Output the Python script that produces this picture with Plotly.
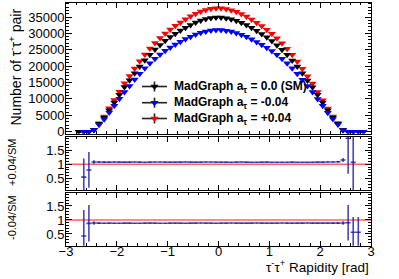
import plotly.graph_objects as go

# ---------------- data ----------------
bin_centers = [round(-2.95 + 0.1 * i, 2) for i in range(60)]

sm_counts = [None, None, 1, 4, 7, 560, 2390, 4270, 6580, 8930,
             11280, 13640, 15700, 17860, 19900, 21800, 23500, 25050, 26450, 27750,
             28880, 29900, 30850, 31750, 32600, 33320, 33920, 34380, 34700, 34880,
             34850, 34650, 34330, 33880, 33280, 32570, 31720, 30800, 29850, 28820,
             27700, 26400, 25000, 23450, 21760, 19860, 17800, 15650, 13600, 11240,
             8890, 6540, 4320, 2430, 540, 6, 3, 2, 1, None]

minus_counts = [None, None, None, 2, 6, 500, 2120, 3800, 5850, 7950,
                10040, 12140, 13970, 15900, 17710, 19400, 20920, 22300, 23540, 24700,
                25700, 26610, 27460, 28260, 29010, 29650, 30190, 30600, 30880, 31040,
                31020, 30840, 30550, 30150, 29620, 28990, 28230, 27410, 26570, 25650,
                24650, 23500, 22250, 20870, 19370, 17680, 15840, 13930, 12100, 10000,
                7910, 5820, 3840, 2160, 480, 5, 2, 1, 1, None]

plus_counts = [None, None, 1, 2, 6, 615, 2590, 4620, 7120, 9660,
               12200, 14750, 16980, 19300, 21520, 23560, 25380, 27060, 28570, 29970,
               31200, 32300, 33330, 34300, 35220, 36000, 36650, 37140, 37490, 37680,
               37650, 37430, 37090, 36600, 35950, 35190, 34270, 33270, 32250, 31130,
               29920, 28520, 27000, 25330, 23500, 21450, 19230, 16900, 14700, 12140,
               9600, 7070, 4670, 2630, 620, 11, 3, None, None, None]

ratio_plus = ([None, None, None, 0.55, 0.80, 1.08] +
              [1.080, 1.078, 1.076, 1.079, 1.077, 1.075, 1.078, 1.080, 1.076, 1.074,
               1.077, 1.079, 1.081, 1.078, 1.076, 1.075, 1.077, 1.079, 1.078, 1.076,
               1.077, 1.080, 1.079, 1.077, 1.076, 1.075, 1.074, 1.077, 1.079, 1.076,
               1.073, 1.072, 1.075, 1.077, 1.074, 1.072, 1.071, 1.073, 1.075, 1.074,
               1.072, 1.071, 1.074, 1.076, 1.078, 1.080, 1.083, 1.088] +
              [1.15, 1.92, 1.07, None, None, None])

ratio_plus_err = ([None, None, None, 0.65, 0.63, 0.06] +
                  [0.031, 0.023, 0.018, 0.016, 0.014, 0.013, 0.012, 0.011, 0.011, 0.010,
                   0.010, 0.010, 0.009, 0.009, 0.009, 0.009, 0.009, 0.009, 0.009, 0.009,
                   0.008, 0.008, 0.008, 0.008, 0.008, 0.008, 0.008, 0.008, 0.009, 0.009,
                   0.009, 0.009, 0.009, 0.009, 0.009, 0.009, 0.010, 0.010, 0.010, 0.011,
                   0.011, 0.012, 0.013, 0.014, 0.016, 0.018, 0.023, 0.031] +
                  [0.07, 1.25, 1.20, None, None, None])

ratio_minus = ([None, None, None, 0.43, 0.88, 0.89] +
               [0.886, 0.884, 0.887, 0.885, 0.883, 0.886, 0.888, 0.885, 0.884, 0.886,
                0.889, 0.887, 0.885, 0.884, 0.886, 0.888, 0.887, 0.885, 0.886, 0.889,
                0.890, 0.888, 0.886, 0.885, 0.887, 0.889, 0.890, 0.888, 0.886, 0.887,
                0.889, 0.891, 0.889, 0.887, 0.886, 0.888, 0.890, 0.889, 0.887, 0.886,
                0.888, 0.890, 0.889, 0.887, 0.886, 0.888, 0.889, 0.887] +
               [0.89, 0.90, 0.56, 0.56, None, None])

ratio_minus_err = ([None, None, None, 0.93, 0.65, 0.06] +
                   [0.028, 0.021, 0.016, 0.014, 0.013, 0.012, 0.011, 0.010, 0.010, 0.009,
                    0.009, 0.009, 0.008, 0.008, 0.008, 0.008, 0.008, 0.008, 0.008, 0.008,
                    0.007, 0.007, 0.007, 0.007, 0.007, 0.007, 0.007, 0.007, 0.008, 0.008,
                    0.008, 0.008, 0.008, 0.008, 0.008, 0.008, 0.009, 0.009, 0.009, 0.010,
                    0.010, 0.011, 0.012, 0.013, 0.014, 0.016, 0.021, 0.028] +
                   [0.06, 0.63, 0.55, 0.55, None, None])

half_bin = [0.05] * 60

legend_labels = ["<b>MadGraph a<sub>τ</sub> = 0.0 (SM)</b>",
                 "<b>MadGraph a<sub>τ</sub> = -0.04</b>",
                 "<b>MadGraph a<sub>τ</sub> = +0.04</b>"]
legend_colors = ["black", "#0000ff", "#ff0000"]

# ---------------- figure ----------------
W, H = 399, 279
FONT = "Liberation Sans, Arial, sans-serif"


def ydom(top_px, bot_px):
    return [1 - bot_px / H, 1 - top_px / H]


XDOM = [66 / W, 371 / W]

fig = go.Figure()

# top panel markers (red, black, blue)
for vals, col in [(plus_counts, "#ff0000"), (sm_counts, "black"), (minus_counts, "#0000ff")]:
    fig.add_trace(go.Scatter(
        x=bin_centers, y=vals, mode="markers", xaxis="x", yaxis="y",
        marker=dict(symbol="triangle-down", size=7, color=col, line=dict(width=0)),
        showlegend=False, hoverinfo="skip"))

ratio_col = "rgba(25,25,165,0.8)"
line_col = "rgba(255,70,70,0.85)"

# ratio panels
for (vals, errs, xa, ya) in [(ratio_plus, ratio_plus_err, "x2", "y2"),
                             (ratio_minus, ratio_minus_err, "x3", "y3")]:
    fig.add_trace(go.Scatter(
        x=[-3, 3], y=[1, 1], mode="lines", xaxis=xa, yaxis=ya,
        line=dict(color=line_col, width=1.5), showlegend=False, hoverinfo="skip"))
    fig.add_trace(go.Scatter(
        x=bin_centers, y=vals, mode="markers", xaxis=xa, yaxis=ya,
        marker=dict(size=1, color=ratio_col),
        error_x=dict(type="data", array=half_bin, color=ratio_col, thickness=1.6, width=0),
        error_y=dict(type="data", array=errs, color=ratio_col, thickness=1.6, width=0),
        showlegend=False, hoverinfo="skip"))

# legend (drawn on an overlay pixel-space axis)
leg_rows = [86.5, 102.7, 118.5]
for row, col in zip(leg_rows, legend_colors):
    fig.add_trace(go.Scatter(
        x=[142, 167], y=[row, row], mode="lines", xaxis="x4", yaxis="y4",
        line=dict(color="#222222", width=1.6), showlegend=False, hoverinfo="skip"))
    fig.add_trace(go.Scatter(
        x=[154.5, 154.5], y=[row - 5, row + 5], mode="lines", xaxis="x4", yaxis="y4",
        line=dict(color="#222222", width=1.6), showlegend=False, hoverinfo="skip"))
    fig.add_trace(go.Scatter(
        x=[154.5], y=[row], mode="markers", xaxis="x4", yaxis="y4",
        marker=dict(symbol="triangle-down", size=7, color=col, line=dict(width=0)),
        showlegend=False, hoverinfo="skip"))

common = dict(showline=True, linecolor="black", linewidth=1, mirror="allticks",
              ticks="inside", tickcolor="black", showgrid=False, zeroline=False,
              automargin=False,
              tickfont=dict(family=FONT, size=13, color="black"))

fig.update_layout(
    width=W, height=H,
    margin=dict(l=0, r=0, t=0, b=0, autoexpand=False),
    paper_bgcolor="white", plot_bgcolor="rgba(0,0,0,0)",
    font=dict(family=FONT, color="black"),
    xaxis=dict(domain=XDOM, range=[-3, 3], anchor="y", dtick=1, tick0=0, ticklen=5,
               showticklabels=False,
               minor=dict(ticks="inside", dtick=0.2, ticklen=2.5, tickcolor="black"),
               **common),
    yaxis=dict(domain=ydom(2.5, 133.5), range=[-550, 39430], anchor="x", dtick=5000,
               tick0=0, ticklen=6, tickformat="d", ticklabelstandoff=-2,
               minor=dict(ticks="inside", dtick=1000, ticklen=3, tickcolor="black"),
               **common),
    xaxis2=dict(domain=XDOM, range=[-3, 3], anchor="y2", dtick=1, tick0=0, ticklen=5,
                showticklabels=False,
                minor=dict(ticks="inside", dtick=0.2, ticklen=2.5, tickcolor="black"),
                **common),
    yaxis2=dict(domain=ydom(136.5, 190), range=[0.095, 1.979], anchor="x2", dtick=0.5,
                tick0=0, ticklen=6, ticklabelstandoff=-2,
                minor=dict(ticks="inside", dtick=0.1, ticklen=3, tickcolor="black"),
                **common),
    xaxis3=dict(domain=XDOM, range=[-3, 3], anchor="y3", dtick=1, tick0=0, ticklen=5,
                ticklabelstandoff=-6,
                minor=dict(ticks="inside", dtick=0.2, ticklen=2.5, tickcolor="black"),
                **common),
    yaxis3=dict(domain=ydom(192.5, 245.7), range=[0.082, 1.98], anchor="x3", dtick=0.5,
                tick0=0, ticklen=6, ticklabelstandoff=-2,
                minor=dict(ticks="inside", dtick=0.1, ticklen=3, tickcolor="black"),
                **common),
    xaxis4=dict(domain=[0, 1], range=[0, W], anchor="y4", visible=False, fixedrange=True),
    yaxis4=dict(domain=[0, 1], range=[H, 0], anchor="x4", visible=False, fixedrange=True),
)

annotations = [
    dict(text="Number of τ<sup>-</sup>τ<sup>+</sup> pair", x=15 / W, y=1 - 67.5 / H,
         textangle=-90, font=dict(size=14)),
    dict(text="+0.04/SM", x=12 / W, y=1 - 163 / H, textangle=-90, font=dict(size=11)),
    dict(text="-0.04/SM", x=12 / W, y=1 - 218 / H, textangle=-90, font=dict(size=11)),
    dict(text="τ<sup>-</sup>τ<sup>+</sup> Rapidity [rad]", x=371 / W, y=1 - 265.5 / H,
         xanchor="right", font=dict(size=13.5)),
]
for row, lab in zip(leg_rows, legend_labels):
    annotations.append(dict(text=lab, x=172 / W, y=1 - row / H, xanchor="left",
                            font=dict(size=12)))

for a in annotations:
    a.setdefault("xanchor", "center")
    a.update(xref="paper", yref="paper", yanchor="middle", showarrow=False,
             font=dict(family=FONT, color="black", **a["font"]))
fig.update_layout(annotations=annotations)

fig.write_html("out.html",
               config={"displayModeBar": False, "staticPlot": True},
               post_script="document.body.style.margin='0';"
                           "document.body.style.overflow='hidden';")
